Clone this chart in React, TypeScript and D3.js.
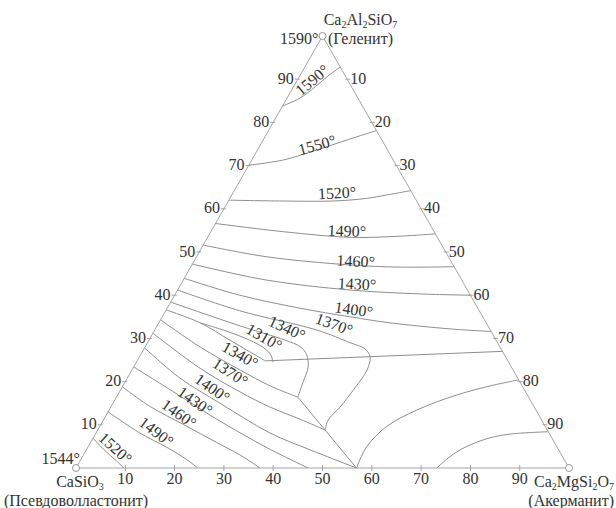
import React from 'react'
import * as d3 from 'd3'

const width = 616
const height = 508

// points are [Ca2MgSi2O7 %, Ca2Al2SiO7 %]
const iso1590 = [[0, 83.8], [2.6, 85.6], [4.4, 88.2], [5.7, 90.7], [7.2, 92.8]]
const iso1550 = [[0, 70.1], [6.4, 71.3], [12.0, 73.6], [16.9, 75.9], [21.9, 78.1]]
const iso1520 = [[0, 62.0], [11.1, 61.8], [21.2, 61.8], [27.7, 62.4], [31.4, 63.2], [35.8, 64.2]]
const iso1490 = [[0, 56.6], [14.7, 54.7], [28.9, 53.4], [37.9, 53.6], [45.8, 54.2]]
const iso1460 = [[0, 51.6], [14.2, 48.9], [32.1, 47.0], [42.5, 46.5], [53.4, 46.6]]
const iso1430 = [[0, 47.2], [16.9, 43.5], [35.0, 41.2], [49.6, 40.3], [60.0, 40.0]]
const iso1400 = [[0, 43.9], [13.2, 40.0], [26.9, 37.0], [38.1, 35.0], [46.9, 33.6], [59.8, 32.2], [68.4, 31.6]]
const iso1370 = [[0, 41.2], [15.0, 36.4], [33.0, 31.9], [41.1, 29.0], [44.8, 27.6], [46.8, 25.7],
  [47.7, 22.7], [47.3, 18.5], [46.5, 14.1], [45.6, 11.1], [46.1, 8.8]]
const iso1340 = [[0, 38.4], [16.8, 32.9], [27.6, 29.6], [31.4, 28.1], [33.6, 26.3], [35.4, 23.4],
  [36.1, 19.9], [36.8, 16.4]]
const iso1310 = [[8.4, 33.6], [14.3, 31.8], [20.4, 29.6], [24.2, 27.8], [26.4, 26.2], [27.7, 24.5]]
const low1340 = [[0, 34.3], [11.2, 28.0], [21.9, 22.7], [29.9, 19.0], [36.8, 16.4]]
const low1370 = [[0, 31.2], [13.6, 23.1], [24.5, 17.6], [32.3, 14.1], [39.8, 11.3], [46.1, 8.8]]
const low1400 = [[0, 27.8], [10.7, 20.8], [21.7, 15.0], [35.3, 8.1], [45.4, 4.2], [56.9, 0]]
const low1430 = [[0, 23.4], [11.4, 17.4], [22.9, 11.3], [36.6, 4.6], [47.1, 0]]
const low1460 = [[0, 18.8], [7.8, 14.3], [16.7, 10.1], [25.6, 5.9], [31.8, 3.0], [37.3, 0]]
const low1490 = [[0, 13.0], [8.9, 8.1], [16.0, 4.8], [21.4, 2.0], [24.7, 0]]
const low1520 = [[0, 6.9], [3.9, 4.0], [7.3, 1.7], [9.7, 0]]
const akIso = [[73.2, 0], [74.2, 2.1], [75.8, 4.2], [78.0, 5.8], [80.0, 6.8], [82.2, 7.5], [85.4, 8.0], [91.6, 8.4]]

// field boundaries
const bndLeft = [[0, 36.6], [8.4, 33.6], [16.4, 29.6], [23.2, 26.2], [26.0, 24.8]]
const bndFlat = [[26.0, 24.8], [73.0, 27.0]]
const bndLow = [[36.8, 16.4], [56.9, 0]]
const bndRight = [[56.9, 0], [56.5, 4.9], [58.2, 9.6], [62.4, 13.4], [68.8, 16.9], [74.5, 19.0], [79.6, 20.4]]

const smoothLines = [iso1590, iso1550, iso1520, iso1490, iso1460, iso1430, iso1400, iso1370, iso1340,
  iso1310, low1340, low1370, low1400, low1430, low1460, low1490, low1520, akIso, bndLeft, bndRight]
const straightLines = [bndFlat, bndLow]

const labels = [
  { t: '1590°', p: [3.0, 89.8], r: -40 },
  { t: '1550°', p: [11.5, 74.8], r: -15 },
  { t: '1520°', p: [21.1, 63.7], r: -3 },
  { t: '1490°', p: [27.5, 54.9], r: 2 },
  { t: '1460°', p: [32.8, 47.9], r: 3 },
  { t: '1430°', p: [35.7, 42.6], r: 3 },
  { t: '1400°', p: [38.0, 36.7], r: 8 },
  { t: '1370°', p: [35.7, 33.3], r: 20 },
  { t: '1340°', p: [26.6, 32.4], r: 25 },
  { t: '1310°', p: [23.0, 30.3], r: 30 },
  { t: '1340°', p: [20.2, 26.2], r: 30 },
  { t: '1370°', p: [20.2, 22.2], r: 33 },
  { t: '1400°', p: [18.4, 18.5], r: 35 },
  { t: '1430°', p: [16.4, 15.5], r: 35 },
  { t: '1460°', p: [14.6, 12.6], r: 35 },
  { t: '1490°', p: [12.1, 8.4], r: 37 },
  { t: '1520°', p: [5.7, 4.6], r: 42 },
]

const ticks = [10, 20, 30, 40, 50, 60, 70, 80, 90]

const xScale = d3.scaleLinear().domain([0, 100]).range([76, 569])
const yScale = d3.scaleLinear().domain([0, 100]).range([468, 36])
const proj = (d) => [xScale(d[0] + d[1] / 2), yScale(d[1])]

const smooth = d3.line().x(d => proj(d)[0]).y(d => proj(d)[1]).curve(d3.curveCatmullRom.alpha(0.5))
const straight = d3.line().x(d => proj(d)[0]).y(d => proj(d)[1])

const font = '"Liberation Serif", "Times New Roman", serif'
const lineColor = '#8e8e8e'
const textColor = '#333'
const fs = 16

function Formula({ x, y, parts, anchor }) {
  return (
    <text x={x} y={y} textAnchor={anchor} fontSize={fs} fill={textColor}>
      {parts.map((p, i) => {
        const sub = /^\d$/.test(p)
        const prevSub = i > 0 && /^\d$/.test(parts[i - 1])
        return (
          <tspan key={i} fontSize={sub ? 10 : fs} dy={sub ? 2.5 : prevSub ? -2.5 : 0}>{p}</tspan>
        )
      })}
    </text>
  )
}

function App() {
  const A = proj([0, 0])
  const B = proj([100, 0])
  const C = proj([0, 100])

  return (
    <svg width={width} height={height} style={{ position: 'absolute', left: 0, top: 0, background: '#fff' }}
      fontFamily={font}>
      <polygon points={[A, B, C].map(p => p.join(',')).join(' ')} fill="none" stroke="#a5a5a5" strokeWidth={1} />

      {ticks.map(t => {
        const b = proj([t, 0])
        const l = proj([0, t])
        const r = proj([t, 100 - t])
        return (
          <g key={t} stroke="#a5a5a5" strokeWidth={1}>
            <line x1={b[0]} x2={b[0]} y1={b[1] - 3} y2={b[1] + 3} />
            <line x1={l[0] - 3} x2={l[0] + 2} y1={l[1]} y2={l[1]} />
            <line x1={r[0] - 2} x2={r[0] + 3} y1={r[1]} y2={r[1]} />
          </g>
        )
      })}

      {smoothLines.map((d, i) => (
        <path key={'s' + i} d={smooth(d)} fill="none" stroke={lineColor} strokeWidth={1} />
      ))}
      {straightLines.map((d, i) => (
        <path key={'l' + i} d={straight(d)} fill="none" stroke={lineColor} strokeWidth={1} />
      ))}

      {[A, B, C].map((p, i) => (
        <circle key={i} cx={p[0]} cy={p[1]} r={3.5} fill="#fff" stroke="#999" strokeWidth={1} />
      ))}

      <g fill={textColor} fontSize={fs}>
        {ticks.map(t => {
          const b = proj([t, 0])
          const l = proj([0, t])
          const r = proj([t, 100 - t])
          return (
            <g key={t}>
              <text x={b[0]} y={b[1] + 16} textAnchor="middle">{t}</text>
              <text x={l[0] - 4} y={l[1] + 4.5} textAnchor="end">{t}</text>
              <text x={r[0] + 3} y={r[1] + 4.5} textAnchor="start">{t}</text>
            </g>
          )
        })}

        {labels.map((l, i) => {
          const p = proj(l.p)
          return (
            <text key={i} x={p[0]} y={p[1]} textAnchor="middle" dominantBaseline="central"
              transform={`rotate(${l.r},${p[0]},${p[1]})`}>{l.t}</text>
          )
        })}

        <text x={C[0] - 4} y={C[1] + 8} textAnchor="end">1590°</text>
        <text x={A[0] + 4} y={A[1] - 4} textAnchor="end">1544°</text>
      </g>

      <Formula x={C[0] + 38} y={C[1] - 11} anchor="middle" parts={['Ca', '2', 'Al', '2', 'SiO', '7']} />
      <text x={C[0] + 38} y={C[1] + 8} textAnchor="middle" fontSize={fs} fill={textColor}>(Геленит)</text>

      <Formula x={A[0] + 4} y={A[1] + 19} anchor="middle" parts={['CaSiO', '3']} />
      <text x={A[0]} y={A[1] + 38} textAnchor="middle" fontSize={fs} fill={textColor}>(Псевдоволластонит)</text>

      <Formula x={614} y={B[1] + 19} anchor="end" parts={['Ca', '2', 'MgSi', '2', 'O', '7']} />
      <text x={614} y={B[1] + 38} textAnchor="end" fontSize={fs} fill={textColor}>(Акерманит)</text>
    </svg>
  )
}

export default App
